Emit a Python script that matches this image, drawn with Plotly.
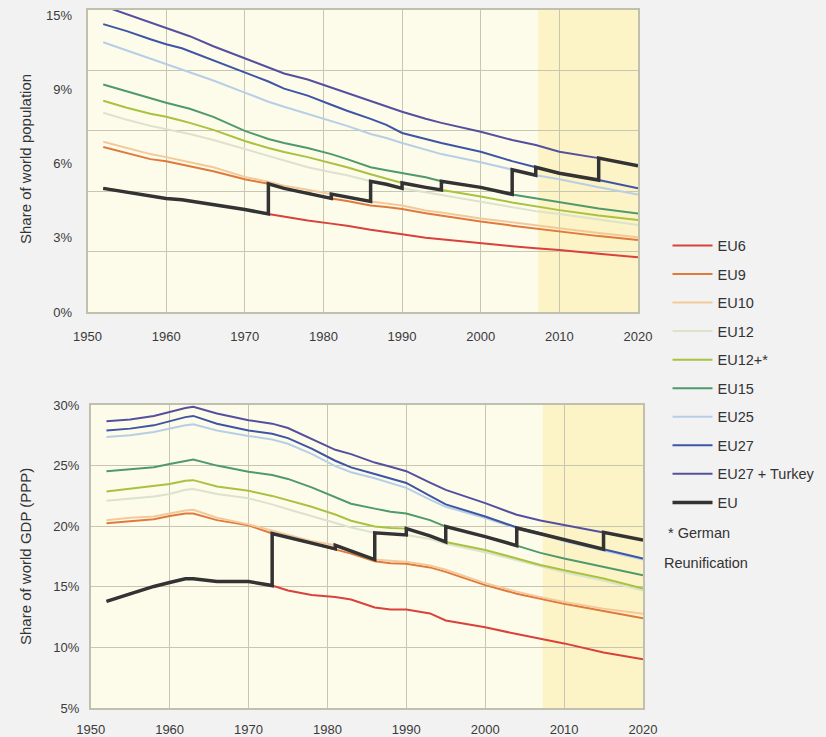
import plotly.graph_objects as go

# ---------------- data ----------------
years = [1952, 1955, 1958, 1960, 1962, 1963, 1966, 1970, 1973, 1975, 1978, 1981,
         1983, 1986, 1988, 1990, 1993, 1995, 2000, 2004, 2007, 2010, 2015, 2020]

series_names = ["EU6", "EU9", "EU10", "EU12", "EU12+*", "EU15", "EU25", "EU27", "EU27 + Turkey"]

# Share of world population (%)
pop_eu6 = [6.15, 5.95, 5.75, 5.65, 5.58, 5.52, 5.35, 5.10, 4.88, 4.75, 4.55, 4.40,
           4.30, 4.10, 4.00, 3.87, 3.70, 3.62, 3.42, 3.28, 3.18, 3.09, 2.90, 2.73]
pop_eu9 = [8.20, 7.90, 7.60, 7.50, 7.35, 7.25, 7.00, 6.60, 6.38, 6.15, 5.92, 5.65,
           5.52, 5.30, 5.22, 5.12, 4.92, 4.80, 4.50, 4.30, 4.15, 4.00, 3.78, 3.59]
pop_eu10 = [8.46, 8.15, 7.85, 7.70, 7.55, 7.45, 7.20, 6.72, 6.48, 6.28, 6.08, 5.87,
            5.72, 5.50, 5.40, 5.30, 5.05, 4.95, 4.66, 4.45, 4.30, 4.17, 3.93, 3.72]
pop_eu12 = [9.90, 9.55, 9.25, 9.10, 8.95, 8.85, 8.55, 8.10, 7.75, 7.50, 7.20, 6.95,
            6.80, 6.50, 6.35, 6.15, 5.95, 5.80, 5.50, 5.20, 5.02, 4.88, 4.60, 4.33]
pop_eu12g = [10.50, 10.15, 9.85, 9.70, 9.50, 9.40, 9.05, 8.50, 8.15, 7.95, 7.70, 7.40,
             7.20, 6.85, 6.65, 6.42, 6.20, 6.07, 5.75, 5.45, 5.25, 5.07, 4.80, 4.58]
pop_eu15 = [11.30, 10.95, 10.60, 10.40, 10.20, 10.10, 9.70, 9.00, 8.60, 8.40, 8.15, 7.85,
            7.60, 7.20, 7.05, 6.90, 6.70, 6.50, 6.20, 5.85, 5.65, 5.45, 5.15, 4.90]
pop_eu25 = [13.40, 13.00, 12.60, 12.30, 12.05, 11.90, 11.50, 10.90, 10.45, 10.20, 9.85, 9.50,
            9.25, 8.85, 8.65, 8.40, 8.05, 7.85, 7.45, 7.07, 6.80, 6.60, 6.20, 5.85]
pop_eu27 = [14.30, 13.95, 13.55, 13.30, 13.10, 12.95, 12.50, 11.90, 11.45, 11.10, 10.75, 10.30,
            10.00, 9.60, 9.30, 8.90, 8.60, 8.40, 7.97, 7.50, 7.20, 6.90, 6.56, 6.15]
pop_eu27t = [15.20, 14.80, 14.40, 14.10, 13.85, 13.70, 13.20, 12.60, 12.15, 11.85, 11.55, 11.15,
             10.90, 10.50, 10.25, 9.95, 9.60, 9.40, 8.96, 8.55, 8.30, 7.97, 7.65, 7.27]

# Share of world GDP, PPP (%)
gdp_eu6 = [13.80, 14.45, 15.03, 15.36, 15.66, 15.66, 15.44, 15.44, 15.10, 14.70, 14.33, 14.15,
           13.95, 13.30, 13.13, 13.13, 12.80, 12.22, 11.66, 11.10, 10.70, 10.33, 9.58, 9.03]
gdp_eu9 = [20.24, 20.43, 20.57, 20.84, 21.04, 21.04, 20.50, 20.07, 19.40, 19.10, 18.60, 18.13,
           17.74, 17.10, 16.95, 16.90, 16.60, 16.23, 15.14, 14.43, 14.00, 13.60, 13.00, 12.40]
gdp_eu10 = [20.50, 20.70, 20.80, 21.07, 21.30, 21.35, 20.70, 20.15, 19.65, 19.30, 18.77, 18.43,
            17.95, 17.25, 17.15, 17.06, 16.75, 16.40, 15.30, 14.60, 14.15, 13.74, 13.20, 12.77]
gdp_eu12 = [22.10, 22.30, 22.45, 22.65, 23.00, 23.06, 22.65, 22.30, 21.80, 21.40, 20.85, 20.24,
            19.90, 19.45, 19.35, 19.28, 18.95, 18.55, 17.85, 17.20, 16.65, 16.20, 15.50, 14.70]
gdp_eu12g = [22.87, 23.10, 23.28, 23.48, 23.75, 23.80, 23.28, 22.92, 22.50, 22.15, 21.60, 20.96,
             20.45, 19.97, 19.85, 19.80, 19.20, 18.70, 18.03, 17.34, 16.80, 16.37, 15.68, 14.85]
gdp_eu15 = [24.53, 24.72, 24.86, 25.14, 25.40, 25.50, 25.00, 24.50, 24.22, 23.90, 23.20, 22.37,
            21.85, 21.45, 21.20, 21.05, 20.50, 19.97, 19.14, 18.40, 17.80, 17.34, 16.65, 15.96]
gdp_eu25 = [27.35, 27.50, 27.77, 28.05, 28.32, 28.40, 27.90, 27.44, 27.16, 26.80, 25.97, 24.95,
            24.45, 23.95, 23.55, 23.16, 22.20, 21.60, 20.67, 19.85, 19.36, 18.75, 18.00, 17.26]
gdp_eu27 = [27.90, 28.05, 28.32, 28.65, 29.00, 29.10, 28.46, 27.90, 27.63, 27.27, 26.40, 25.40,
            24.85, 24.30, 23.95, 23.57, 22.50, 21.80, 20.80, 19.90, 19.42, 18.86, 18.10, 17.34]
gdp_eu27t = [28.66, 28.80, 29.10, 29.43, 29.76, 29.85, 29.30, 28.74, 28.46, 28.10, 27.20, 26.30,
             25.95, 25.25, 24.90, 24.54, 23.60, 23.00, 21.90, 20.94, 20.47, 20.11, 19.50, 18.86]

# membership changes of the "EU" line (first year of each enlargement)
accession_years = [1973, 1981, 1986, 1990, 1995, 2004, 2007, 2015]

pop_y_ticklabels = ["0%", "3%", "6%", "9%", "15%"]
gdp_y_ticks = [5, 10, 15, 20, 25, 30]
gdp_y_ticklabels = ["5%", "10%", "15%", "20%", "25%", "30%"]
x_ticks = [1950, 1960, 1970, 1980, 1990, 2000, 2010, 2020]

# ---------------- styling ----------------
colors = ["#D9413B", "#E07A3C", "#F3C99B", "#DCE2CB", "#A9C23F",
          "#4F9A6B", "#B7CFE6", "#3E55A6", "#55509E"]
eu_color = "#333333"
FONT = "Liberation Sans, Arial, sans-serif"
grid_c = "#C6C6B2"
line_c = "#C0C0AE"

pop_series = [pop_eu6, pop_eu9, pop_eu10, pop_eu12, pop_eu12g, pop_eu15, pop_eu25, pop_eu27, pop_eu27t]
gdp_series = [gdp_eu6, gdp_eu9, gdp_eu10, gdp_eu12, gdp_eu12g, gdp_eu15, gdp_eu25, gdp_eu27, gdp_eu27t]


def eu_path(series_list):
    bounds = [years[0]] + accession_years + [years[-1]]
    xs, ys = [], []
    for i, s in enumerate(series_list):
        for yr, v in zip(years, s):
            if bounds[i] <= yr <= bounds[i + 1]:
                xs.append(yr)
                ys.append(v)
    return xs, ys


fig = go.Figure()

for name, col, ps, gs in zip(series_names, colors, pop_series, gdp_series):
    fig.add_trace(go.Scatter(x=years, y=ps, mode="lines", name=name, legendgroup=name,
                             line=dict(color=col, width=2), xaxis="x", yaxis="y"))
    fig.add_trace(go.Scatter(x=years, y=gs, mode="lines", name=name, legendgroup=name,
                             showlegend=False, line=dict(color=col, width=2), xaxis="x2", yaxis="y2"))

ex, ey = eu_path(pop_series)
fig.add_trace(go.Scatter(x=ex, y=ey, mode="lines", name="EU", legendgroup="EU",
                         line=dict(color=eu_color, width=3.5), xaxis="x", yaxis="y"))
ex, ey = eu_path(gdp_series)
fig.add_trace(go.Scatter(x=ex, y=ey, mode="lines", name="EU", legendgroup="EU", showlegend=False,
                         line=dict(color=eu_color, width=3.5), xaxis="x2", yaxis="y2"))

W, H = 826, 737
top_x = [87.5 / W, 638 / W]
bot_x = [90.7 / W, 643 / W]
top_y = [1 - 312.3 / H, 1 - 10 / H]
bot_y = [1 - 708 / H, 1 - 405 / H]

tick_font = dict(family=FONT, size=13, color="#3A3A3A")
common_x = dict(range=[1950, 2020], tickvals=x_ticks, showgrid=True, gridcolor=grid_c, gridwidth=1,
                showline=True, linecolor=line_c, linewidth=1.5, mirror=True, zeroline=False,
                tickfont=tick_font, ticks="", fixedrange=True, automargin=False)

fig.update_layout(
    width=W, height=H,
    margin=dict(l=0, r=0, t=0, b=0, autoexpand=False),
    paper_bgcolor="#F2F2F2",
    plot_bgcolor="#FDFCEA",
    font=dict(family=FONT, color="#333333"),
    xaxis=dict(domain=top_x, anchor="y", ticklabelstandoff=11, **common_x),
    xaxis2=dict(domain=bot_x, anchor="y2", ticklabelstandoff=9, **common_x),
    yaxis=dict(domain=top_y, anchor="x", range=[0, 15],
               tickvals=[0, 3.72, 7.39, 11.06, 14.74], ticktext=pop_y_ticklabels,
               showgrid=False, zeroline=False, showline=True, linecolor=line_c, linewidth=1.5,
               mirror=True, tickfont=tick_font, ticks="", ticklabelstandoff=11,
               minor=dict(tickvals=[0, 3, 6, 9, 12, 15], showgrid=True, gridcolor=grid_c,
                          gridwidth=1, ticks=""),
               fixedrange=True, automargin=False),
    yaxis2=dict(domain=bot_y, anchor="x2", range=[5, 30], tickvals=gdp_y_ticks,
                ticktext=gdp_y_ticklabels,
                showgrid=True, gridcolor=grid_c, gridwidth=1, zeroline=False, showline=True,
                linecolor=line_c, linewidth=1.5, mirror=True, tickfont=tick_font, ticks="",
                ticklabelstandoff=7, fixedrange=True, automargin=False),
    legend=dict(x=667.5 / W, y=1 - 229.5 / H, xanchor="left", yanchor="top",
                font=dict(family=FONT, size=14.5, color="#333333"),
                bgcolor="rgba(0,0,0,0)", itemwidth=40, tracegroupgap=6.7,
                traceorder="grouped"),
    showlegend=True,
)

# projection period shading
for xr, yr in (("x", "y"), ("x2", "y2")):
    fig.add_shape(type="rect", xref=xr, yref=yr + " domain", x0=2007.3, x1=2020, y0=0, y1=1,
                  fillcolor="#FCF3C6", line_width=0, layer="below")

# axis titles
ann_font = dict(family=FONT, size=15, color="#333333")
fig.add_annotation(text="Share of world population", x=25 / W, y=1 - 159 / H, xref="paper", yref="paper",
                   xanchor="center", yanchor="middle", textangle=-90, showarrow=False, font=ann_font)
fig.add_annotation(text="Share of world GDP (PPP)", x=25 / W, y=1 - 557 / H, xref="paper", yref="paper",
                   xanchor="center", yanchor="middle", textangle=-90, showarrow=False, font=ann_font)

# footnote
note_font = dict(family=FONT, size=14.5, color="#333333")
fig.add_annotation(text="* German", x=666 / W, y=1 - 533 / H, xref="paper", yref="paper",
                   xanchor="left", yanchor="middle", showarrow=False, font=note_font)
fig.add_annotation(text="Reunification", x=662 / W, y=1 - 563 / H, xref="paper", yref="paper",
                   xanchor="left", yanchor="middle", showarrow=False, font=note_font)

fig.write_html("out.html", config={"displayModeBar": False},
               post_script="document.body.style.margin='0px';document.body.style.overflow='hidden';")
